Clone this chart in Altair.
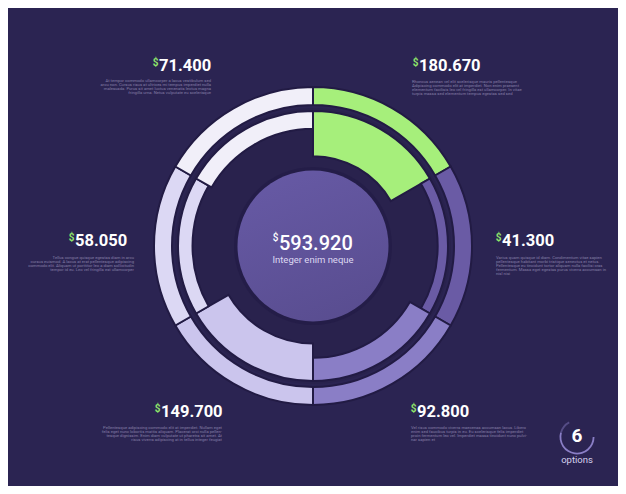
import math
import altair as alt
import pandas as pd

# ---------------- data ----------------
amounts = ["180.670", "41.300", "92.800", "149.700", "58.050", "71.400"]
values = [180.67, 41.30, 92.80, 149.70, 58.05, 71.40]
colors = ["#a6ef7b", "#6a5ba5", "#8a7ec6", "#cbc5ed", "#dcd8f4", "#f1eff9"]
descriptions = [
    "Rhoncus aenean vel elit scelerisque mauris pellentesque\nAdipiscing commodo elit at imperdiet. Non enim praesent\nelementum facilisis leo vel fringilla est ullamcorper. In vitae\nturpis massa sed elementum tempus egestas sed sed",
    "Varius quam quisque id diam. Condimentum vitae sapien\npellentesque habitant morbi tristique senectus et netus.\nPellentesque eu tincidunt tortor aliquam nulla facilisi cras\nfermentum. Massa eget egestas purus viverra accumsan in\nnisl nisi",
    "Vel risus commodo viverra maecenas accumsan lacus. Libero\nenim sed faucibus turpis in eu. Eu scelerisque felis imperdiet\nproin fermentum leo vel. Imperdiet massa tincidunt nunc pulvi-\nnar sapien et",
    "Pellentesque adipiscing commodo elit at imperdiet. Nullam eget\nfelis eget nunc lobortis mattis aliquam. Placerat orci nulla pellen-\ntesque dignissim. Enim diam vulputate ut pharetra sit amet. At\nrisus viverra adipiscing at in tellus integer feugiat",
    "Tellus congue quisque egestas diam in arcu\ncursus euismod. A lacus at erat pellentesque adipiscing\ncommodo elit. Aliquam ut porttitor leo a diam sollicitudin\ntempor id eu. Leo vel fringilla est ullamcorper",
    "At tempor commodo ullamcorper a lacus vestibulum sed\narcu non. Cursus risus at ultrices mi tempus imperdiet nulla\nmalesuada. Purus sit amet luctus venenatis lectus magna\nfringilla urna. Netus vulputate eu scelerisque",
]
center_caption = "Integer enim neque"
options_caption = "options"

total = sum(values)
n = len(values)

# ---------------- layout (pixels) ----------------
W, H = 610, 478
CX, CY = 305, 238
R_OUT, R_OUT2 = 159, 141
R_BAND = 135

num_x = [411, 494, 409, 153, 67, 151]
num_y = [63, 238, 409, 409, 238, 63]
desc_x = [404, 488, 403, 214, 126, 203]
desc_y = [75, 250.5, 420.5, 420.5, 250.5, 73.5]
side = ["right", "right", "right", "left", "left", "left"]

BG = "#2b2452"
INNER_BG = "#29224d"
DARK = "#221b44"
DESC = "#857ea6"
GREEN = "#8fe36a"
FONT = "Roboto"

df = pd.DataFrame({
    "amount": amounts,
    "value": values,
    "slot": list(range(n)),
    "slot_end": list(range(1, n + 1)),
    "color": colors,
    "desc": descriptions,
    "num_x": num_x,
    "num_y": num_y,
    "desc_x": desc_x,
    "desc_y": desc_y,
    "side": side,
})

base = alt.Chart(df)
theta_scale = alt.Scale(domain=[0, n], range=[0, 2 * math.pi])
cx = alt.value(CX)
cy = alt.value(CY)

one = pd.DataFrame({"total": [total], "count": [n]})

inner_disk = alt.Chart(one).mark_arc(color=INNER_BG).encode(
    theta=alt.value(0), theta2=alt.value(2 * math.pi),
    radius=alt.value(R_BAND + 3), radius2=alt.value(0), x=cx, y=cy)

ring = base.mark_arc(radius=R_OUT, radius2=R_OUT2, stroke=DARK, strokeWidth=2).encode(
    theta=alt.Theta("slot:Q", scale=theta_scale),
    theta2="slot_end:Q",
    color=alt.Color("color:N", scale=None),
    x=cx, y=cy)

band = base.mark_arc(stroke=DARK, strokeWidth=2).encode(
    theta=alt.Theta("slot:Q", scale=theta_scale),
    theta2="slot_end:Q",
    radius=alt.Radius("value:Q", scale=alt.Scale(type="linear", domain=[0, 540], range=[R_BAND, 0])),
    radius2=alt.value(R_BAND),
    color=alt.Color("color:N", scale=None),
    x=cx, y=cy)

shadow = alt.Chart(one).mark_arc(color="#1e1740", opacity=0.4).encode(
    theta=alt.value(0), theta2=alt.value(2 * math.pi),
    radius=alt.value(79), radius2=alt.value(0), x=cx, y=cy)

grad = alt.LinearGradient(
    gradient="linear",
    stops=[alt.GradientStop(color="#6659a4", offset=0),
           alt.GradientStop(color="#594d90", offset=1)],
    x1=0.3, x2=0.7, y1=0, y2=1)

center = alt.Chart(one).mark_arc(color=grad).encode(
    theta=alt.value(0), theta2=alt.value(2 * math.pi),
    radius=alt.value(75.5), radius2=alt.value(0), x=cx, y=cy)

center_num = alt.Chart(one).transform_calculate(
    label="format(datum.total, '.3f')").mark_text(
    align="left", baseline="alphabetic", font=FONT, fontSize=20, fontWeight=500, color="white"
).encode(x=alt.value(271), y=alt.value(242), text="label:N")

center_dollar = alt.Chart(one).mark_text(
    align="right", baseline="alphabetic", font=FONT, fontSize=10, fontWeight=500, color="white"
).encode(x=alt.value(270.5), y=alt.value(233), text=alt.value("$"))

center_cap = alt.Chart(one).mark_text(
    align="center", baseline="alphabetic", font=FONT, fontSize=9.5, color="#ddd8f2"
).encode(x=alt.value(305), y=alt.value(255), text=alt.value(center_caption))

num_text = base.mark_text(
    align="left", baseline="alphabetic", font=FONT, fontSize=16.5, fontWeight="bold", color="white"
).encode(x=alt.X("num_x:Q", scale=None), y=alt.Y("num_y:Q", scale=None), text="amount:N")

dollar = base.mark_text(
    align="right", baseline="alphabetic", font=FONT, fontSize=10, fontWeight="bold", color=GREEN,
    dx=-0.5, dy=-5
).encode(x=alt.X("num_x:Q", scale=None), y=alt.Y("num_y:Q", scale=None), text=alt.value("$"))

desc_r = base.transform_filter(alt.datum.side == "right").mark_text(
    align="left", baseline="alphabetic", font=FONT, fontSize=4.2, lineBreak="\n", lineHeight=4.1,
    color=DESC
).encode(x=alt.X("desc_x:Q", scale=None), y=alt.Y("desc_y:Q", scale=None), text="desc:N")

desc_l = base.transform_filter(alt.datum.side == "left").mark_text(
    align="right", baseline="alphabetic", font=FONT, fontSize=4.2, lineBreak="\n", lineHeight=4.1,
    color=DESC
).encode(x=alt.X("desc_x:Q", scale=None), y=alt.Y("desc_y:Q", scale=None), text="desc:N")

# options badge
OX, OY = 569, 429
opt_arc = alt.Chart(one).mark_arc(color="#8a7ec6").encode(
    theta=alt.value(math.pi / 2), theta2=alt.value(math.radians(285)),
    radius=alt.value(17.5), radius2=alt.value(15.7), x=alt.value(OX), y=alt.value(OY))
opt_arc2 = alt.Chart(one).mark_arc(color="#8a7ec6", opacity=0.45).encode(
    theta=alt.value(math.radians(285)), theta2=alt.value(math.radians(332)),
    radius=alt.value(17.5), radius2=alt.value(15.7), x=alt.value(OX), y=alt.value(OY))
opt_num = alt.Chart(one).transform_calculate(lab="'' + datum.count").mark_text(
    align="center", baseline="alphabetic", font=FONT, fontSize=19, fontWeight="bold", color="white"
).encode(x=alt.value(OX), y=alt.value(434), text="lab:N")
opt_cap = alt.Chart(one).mark_text(
    align="center", baseline="alphabetic", font=FONT, fontSize=9.5, color="#d6d2ee"
).encode(x=alt.value(OX), y=alt.value(455), text=alt.value(options_caption))

chart = alt.layer(
    inner_disk, ring, band, shadow, center, center_num, center_dollar, center_cap,
    num_text, dollar, desc_r, desc_l, opt_arc, opt_arc2, opt_num, opt_cap
).properties(
    width=W, height=H, background=BG, padding=0,
    autosize=alt.AutoSizeParams(type="none")
).configure_view(stroke=None)

chart.save("out.html", embed_options={"renderer": "svg", "actions": False})
